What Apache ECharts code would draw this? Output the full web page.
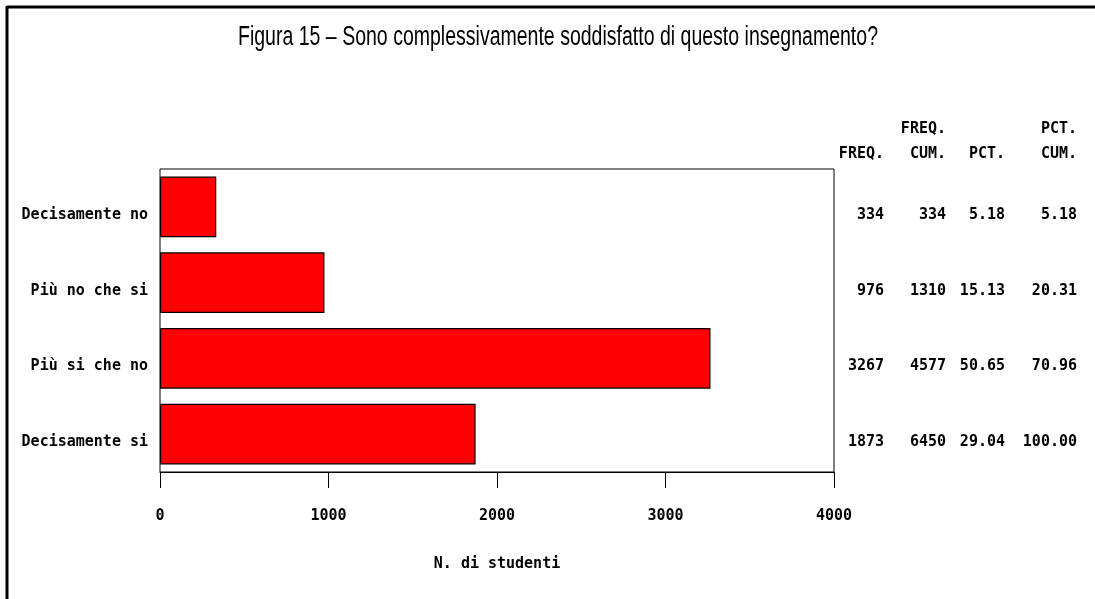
<!DOCTYPE html>
<html>
<head>
<meta charset="utf-8">
<script src="https://cdn.jsdelivr.net/npm/echarts@6/dist/echarts.min.js"></script>
<style>
  html, body { margin: 0; padding: 0; background: #fff; }
  #chart { width: 1095px; height: 599px; }
</style>
</head>
<body>
<div id="chart"></div>
<script>
// dati
const titleText = 'Figura 15 – Sono complessivamente soddisfatto di questo insegnamento?'
const categories = ['Decisamente no', 'Più no che si', 'Più si che no', 'Decisamente si']
const freq = [334, 976, 3267, 1873]
const freqCum = [334, 1310, 4577, 6450]
const pct = ['5.18', '15.13', '50.65', '29.04']
const pctCum = ['5.18', '20.31', '70.96', '100.00']
const headerTop = ['', 'FREQ.', '', 'PCT.']
const headerBottom = ['FREQ.', 'CUM.', 'PCT.', 'CUM.']
const xMin = 0
const xMax = 4000
const xStep = 1000

const MONO = '"DejaVu Sans Mono", "Liberation Mono", monospace'
const MONO_SIZE = 15
const monoStyle = { fontFamily: MONO, fontSize: MONO_SIZE, fontWeight: 'bold', color: '#000' }
const TITLE_FONT = '27px "Liberation Sans", Arial, sans-serif'
const TITLE_WIDTH = 640

// larghezza del titolo per comprimerlo come nell'originale
const measure = document.createElement('canvas').getContext('2d')
measure.font = TITLE_FONT
const titleScale = TITLE_WIDTH / measure.measureText(titleText).width

const colRich = (extra) => ({
  a: Object.assign({ width: 46, align: 'right' }, extra),
  b: Object.assign({ width: 62, align: 'right' }, extra),
  c: Object.assign({ width: 59, align: 'right' }, extra),
  d: Object.assign({ width: 72, align: 'right' }, extra)
})

const row = (vals) => `{a|${vals[0]}}{b|${vals[1]}}{c|${vals[2]}}{d|${vals[3]}}`

const chart = echarts.init(document.getElementById('chart'))

const option = {
  backgroundColor: '#fff',
  animation: false,
  grid: {
    left: 160,
    right: 261,
    top: 169,
    bottom: 127,
    show: true,
    borderColor: '#000',
    borderWidth: 1,
    backgroundColor: 'transparent'
  },
  xAxis: {
    type: 'value',
    min: xMin,
    max: xMax,
    interval: xStep,
    name: 'N. di studenti',
    nameLocation: 'middle',
    nameGap: 85,
    nameTextStyle: monoStyle,
    axisLine: { show: true, lineStyle: { color: '#000', width: 1 } },
    axisTick: { show: true, length: 16, lineStyle: { color: '#000' } },
    axisLabel: Object.assign({ margin: 37, formatter: (v) => String(v) }, monoStyle),
    splitLine: { show: false }
  },
  yAxis: [
    {
      type: 'category',
      data: categories,
      inverse: true,
      axisLine: { show: false },
      axisTick: { show: false },
      axisLabel: Object.assign({
        margin: 12,
        padding: [16, 0, 0, 0],
        formatter: (v) => `{l|${v}}`,
        rich: { l: Object.assign({}, monoStyle) }
      }, monoStyle)
    },
    {
      type: 'category',
      data: categories,
      inverse: true,
      position: 'right',
      axisLine: { show: false },
      axisTick: { show: false },
      axisLabel: Object.assign({
        margin: 4,
        padding: [16, 0, 0, 0],
        formatter: (v, i) => row([freq[i], freqCum[i], pct[i], pctCum[i]]),
        rich: colRich(monoStyle)
      }, monoStyle)
    }
  ],
  series: [
    {
      type: 'bar',
      data: freq,
      barWidth: '80%',
      itemStyle: { color: '#ff0000', borderColor: '#000', borderWidth: 1.2 }
    }
  ],
  graphic: [
    {
      type: 'text',
      x: 558,
      y: 38,
      scaleX: titleScale,
      style: {
        text: titleText,
        font: TITLE_FONT,
        fill: '#000',
        align: 'center',
        verticalAlign: 'middle'
      }
    },
    {
      type: 'text',
      left: 838,
      top: 117,
      style: {
        text: row(headerTop) + '\n' + row(headerBottom),
        font: 'bold ' + MONO_SIZE + 'px ' + MONO,
        fill: '#000',
        lineHeight: 25,
        rich: colRich({ lineHeight: 25, font: 'bold ' + MONO_SIZE + 'px ' + MONO })
      }
    },
    // cornice in alto e a sinistra
    { type: 'line', shape: { x1: 7, y1: 7, x2: 1095, y2: 7 }, style: { stroke: '#000', lineWidth: 3 } },
    { type: 'line', shape: { x1: 7, y1: 6, x2: 7, y2: 599 }, style: { stroke: '#000', lineWidth: 3 } }
  ]
}

chart.setOption(option)
</script>
</body>
</html>
